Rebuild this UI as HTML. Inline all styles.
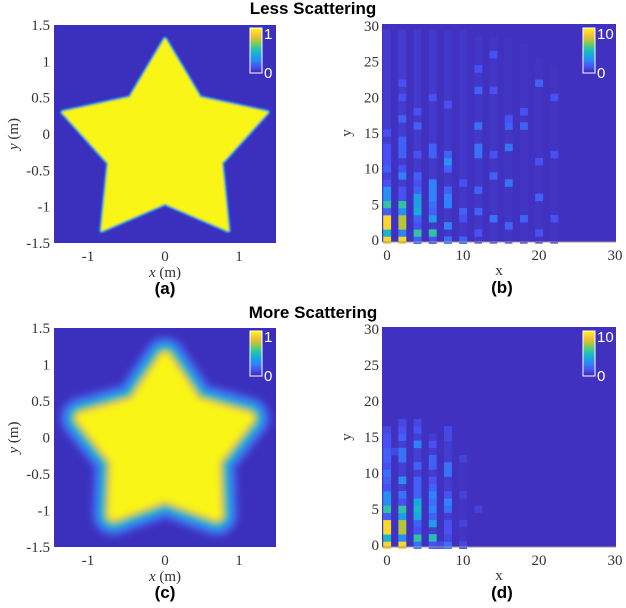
<!DOCTYPE html>
<html><head><meta charset="utf-8"><style>
html,body{margin:0;padding:0;background:#fff;}
svg{display:block;}
.tk{font-family:"Liberation Serif",serif;font-size:15px;fill:#333;}
.ttl{font-family:"Liberation Sans",sans-serif;font-weight:bold;font-size:17px;fill:#000;}
.cb{font-family:"Liberation Sans",sans-serif;font-size:15px;fill:#fff;}
</style></head><body>
<svg id="fig" width="626" height="608" viewBox="0 0 626 608" xmlns="http://www.w3.org/2000/svg">
<defs>
<linearGradient id="parula" x1="0" y1="1" x2="0" y2="0">
<stop offset="0" stop-color="#3e26a8"/><stop offset="0.14" stop-color="#4752f4"/>
<stop offset="0.28" stop-color="#2d87f7"/><stop offset="0.43" stop-color="#12b1d6"/>
<stop offset="0.57" stop-color="#37c897"/><stop offset="0.71" stop-color="#abc739"/>
<stop offset="0.86" stop-color="#fec338"/><stop offset="1" stop-color="#f9fb14"/>
</linearGradient>
<filter id="blurA" x="-20%" y="-20%" width="140%" height="140%"><feGaussianBlur stdDeviation="0.7"/></filter>
<filter id="blurC" x="-40%" y="-40%" width="180%" height="180%"><feGaussianBlur stdDeviation="3"/></filter>
<clipPath id="clipA"><rect x="54" y="25" width="222" height="218"/></clipPath>
<clipPath id="clipC"><rect x="54" y="328" width="222" height="219"/></clipPath>
</defs>
<text class="ttl" x="313" y="14" text-anchor="middle">Less Scattering</text>
<text class="ttl" x="313" y="318" text-anchor="middle">More Scattering</text>
</svg>
<script>
// star parameters (metres)
const starCenter = [0, -0.15];
const starOuterR = 1.45;
const starInnerR = 0.8;
const starCenterC = [0, -0.1];
const starOuterRC = 1.18;
const starInnerRC = 0.7;
// heatmap (b): x, y, value
const bX = [0,0,0,0,0,0,0,0,0,0,0,0,0,0,0, 2,2,2,2,2,2,2,2,2,2,2,2,2,2,2,2, 4,4,4,4,4,4,4,4,4,4,4,4,4, 6,6,6,6,6,6,6,6,6,6,6, 8,8,8,8,8,8,8,8,8, 10,10,10,10, 12,12,12,12,12,12,12,12, 14,14,14,14,14, 16,16,16,16,16, 18,18,18, 20,20,20,20, 22,22,22];
const bY = [0,1,2,3,4,5,6,7,8,9,10,11,12,13,15, 0,1,2,3,4,5,6,7,9,10,12,13,14,17,20,22, 0,1,2,3,4,5,6,7,8,9,12,16,18, 0,1,3,4,5,6,7,8,12,13,20, 0,2,5,6,7,10,11,12,19, 0,3,4,8, 1,4,7,12,13,16,21,24, 3,9,12,21,26, 2,8,13,16,17, 3,16,18, 1,6,11,22, 3,12,20];
const bV = [10,5,10,10,2,6,3.5,3.5,1.5,1,2,1.5,1.5,1.5,1.5, 10,3,8,8,3.5,6,1.5,1.5,3,1.5,2,2,2,2,1.5,1.5, 2,6,1.5,2,4.5,4,4,2,1.5,2,1.5,2,1.5, 1.5,6,4,2,2.5,3,3,3,2,2,1.5, 2.5,3,3,3,2,2,3.5,2,1.5, 2,1.5,2,1.5, 1.5,2,2,2.5,2.5,2.5,2,1.5, 2.5,2,1.5,1.5,1.5, 2,2.5,2.5,2,1.5, 2,2,1.5, 1.5,2,1.5,2, 1.5,1.5,1.5];
// faint column streaks (b)
const bStreakX = [0,2,4,6,8,10,12,14,16,18,20,22];
const bStreakTop = [29,29,29,29,29,29,28,28,28,27,25,24];
const bStreakV = [0.7,0.7,0.65,0.65,0.6,0.6,0.6,0.55,0.55,0.5,0.5,0.45];
// heatmap (d)
const dX = [0,0,0,0,0,0,0,0,0,0,0,0,0,0,0,0,0, 1, 2,2,2,2,2,2,2,2,2,2,2,2,2,2, 4,4,4,4,4,4,4,4,4,4,4,4,4,4, 6,6,6,6,6,6,6,6,6,6,6,6, 7, 8,8,8,8,8,8,8,8,8,8,8, 10,10,10,10, 12];
const dY = [0,1,2,3,4,5,6,7,8,9,10,11,12,13,14,15,16, 13, 0,1,2,3,4,5,6,7,9,12,13,15,16,17, 0,1,2,3,4,5,6,7,8,9,11,14,16,17, 0,1,3,4,5,6,7,8,9,11,12,14, 0, 0,1,2,3,5,6,7,10,11,15,16, 0,3,7,12, 5];
const dV = [10,5,10,10,2,6,3.5,3.5,1.5,2,2.5,1.5,2,2,1.5,1.5,1.2, 1.2, 10,3.5,8,8,4,6,1.5,2.5,3.5,2.5,2.5,2,1.5,1.2, 2.5,6,1.5,2,4.5,5,4.5,2,2,2,2,3,1.5,1.2, 1.5,5.5,4,2,3,2.5,3,2,1.5,2,2,1.5, 1.2, 2.5,1.2,1.5,1.5,2.5,3,1.5,2.5,2.5,1.2,1.2, 1.2,1,1,1, 1];
const dStreakX = [0,2,4,6,8,10];
const dStreakTop = [16,17,17,15,16,12];
const dStreakV = [0.8,0.8,0.8,0.7,0.7,0.5];
const starTicks = [-1.5,-1,-0.5,0,0.5,1,1.5];
const starTickLabels = ["-1.5","-1","-0.5","0","0.5","1","1.5"];
const starXTicks = [-1,0,1];
const heatTicksY = [0,5,10,15,20,25,30];
const heatTicksX = [0,10,20,30];

const NS = "http://www.w3.org/2000/svg";
const svg = document.getElementById('fig');
function mk(tag, attrs, parent){const e=document.createElementNS(NS,tag);for(const k in attrs)e.setAttribute(k,attrs[k]);(parent||svg).appendChild(e);return e;}
const parula=[[62,38,168],[72,82,244],[45,135,247],[18,177,214],[55,200,151],[171,199,57],[254,195,56],[249,251,20]];
function cmap(t){t=Math.max(0,Math.min(1,t))*7;const i=Math.min(6,Math.floor(t)),f=t-i;const a=parula[i],b=parula[i+1];return `rgb(${Math.round(a[0]+(b[0]-a[0])*f)},${Math.round(a[1]+(b[1]-a[1])*f)},${Math.round(a[2]+(b[2]-a[2])*f)})`;}

function starPanel(L,T,R,B,blur,label,idx){
  const sx=v=>L+(v+1.5)/3*(R-L), sy=v=>B-(v+1.5)/3*(B-T);
  const g=mk('g',{});
  
  
  const bg=mk('rect',{x:L,y:T,width:R-L,height:B-T,fill:'#3b30bd'},g);
  
  
  const c=blur?starCenterC:starCenter, Ro=blur?starOuterRC:starOuterR, Ri=blur?starInnerRC:starInnerR;
  let pts=[];
  for(let k=0;k<10;k++){const a=Math.PI/2+k*Math.PI/5;const r=k%2?Ri:Ro;pts.push(sx(c[0]+r*Math.cos(a))+','+sy(c[1]+r*Math.sin(a)));}
  const sg=mk('g',{'clip-path':`url(#clip${blur?'C':'A'})`},g);
  const ig=mk('g',{filter:`url(#blur${blur?'C':'A'})`},sg);
  const layers = blur ? [[46,'#4150dc'],[38,'#3870ee'],[31,'#2898e6'],[25,'#1fb6c0'],[20,'#5bc57e'],[16,'#bcc645'],[12,'#f7c93a']] : [[6,'#3b6ff0'],[4.5,'#1fa9d8'],[3,'#5ac380'],[1.5,'#f0cf36']];
  layers.forEach(([w,col])=>mk('polygon',{points:pts.join(' '),fill:'#f9f516',stroke:col,'stroke-width':w,'stroke-linejoin':'round'},ig));
  const star=mk('polygon',{points:pts.join(' '),fill:'#f9f516',stroke:'#f9f516','stroke-width':blur?8:0,'stroke-linejoin':'round'},ig);
  
  
  starTicks.forEach((v,i)=>{const t=mk('text',{class:'tk',x:L-4,y:sy(v)+5,'text-anchor':'end'});t.textContent=starTickLabels[i];});
  starXTicks.forEach(v=>{const t=mk('text',{class:'tk',x:sx(v)-(v<0?3:0),y:B+18,'text-anchor':'middle'});t.textContent=String(v);});
  const xl=mk('text',{class:'tk',x:(L+R)/2,y:B+34,'text-anchor':'middle'});
  xl.innerHTML='<tspan font-style="italic">x</tspan> (m)';
  
  const yl=mk('text',{class:'tk',x:0,y:0,'text-anchor':'middle',transform:`translate(18,${(T+B)/2}) rotate(-90)`});
  yl.innerHTML='<tspan font-style="italic">y</tspan> (m)';
  
  colorbar(R-26,T+3,'1','colorbar-'+idx);
  const pl=mk('text',{class:'ttl',x:sx(0),y:B+51,'text-anchor':'middle'});pl.textContent=label;
  
}
function colorbar(x,y,top,name){
  const r=mk('rect',{x:x,y:y,width:12,height:45,fill:'url(#parula)',stroke:'#fff','stroke-width':1});
  
  const t1=mk('text',{class:'cb',x:x+14,y:y+11});t1.textContent=top;
  
  const t0=mk('text',{class:'cb',x:x+14,y:y+50});t0.textContent='0';
  
}
function heatPanel(L,T,R,B,X,Y,V,SX,STop,SV,label,idx){
  const x0=387, unit=(615-387)/30;
  const sx=v=>x0+v*unit;
  const yb=B-2, yu=(yb-(T+2))/30;
  const sy=v=>yb-v*yu;
  const bg=mk('rect',{x:L,y:T,width:R-L,height:B-T,fill:'#4131c0'});
  
  SX.forEach((x,i)=>{const r=mk('rect',{x:sx(x-0.5),y:sy(STop[i]+0.5),width:unit,height:(STop[i]+1)*yu,fill:cmap(SV[i]/10)});
    });
  X.forEach((x,i)=>{const r=mk('rect',{x:sx(x-0.5),y:sy(Y[i]+0.5),width:unit+0.3,height:yu+0.3,fill:cmap(V[i]/11)});
    });
  mk('line',{x1:L,y1:B,x2:R,y2:B,stroke:'#999','stroke-width':1});
  heatTicksY.forEach(v=>{const t=mk('text',{class:'tk',x:L-3,y:sy(v)+5,'text-anchor':'end'});t.textContent=String(v);});
  heatTicksX.forEach(v=>{const t=mk('text',{class:'tk',x:sx(v),y:B+18,'text-anchor':'middle'});t.textContent=String(v);});
  const xl=mk('text',{class:'tk',x:(L+R)/2,y:B+33,'text-anchor':'middle'});xl.textContent='x';
  
  const yl=mk('text',{class:'tk',x:0,y:0,'text-anchor':'middle',transform:`translate(351,${sy(15)}) rotate(-90)`});yl.textContent='y';
  
  colorbar(583,T+4,'10','colorbar-'+idx);
  const pl=mk('text',{class:'ttl',x:502,y:B+51,'text-anchor':'middle'});pl.textContent=label;
  
}
starPanel(54,25,276,243,false,'(a)','a');
heatPanel(382,24,616,242,bX,bY,bV,bStreakX,bStreakTop,bStreakV,'(b)','b');
starPanel(54,328,276,547,true,'(c)','c');
heatPanel(382,327,616,547,dX,dY,dV,dStreakX,dStreakTop,dStreakV,'(d)','d');
</script>
</body></html>
